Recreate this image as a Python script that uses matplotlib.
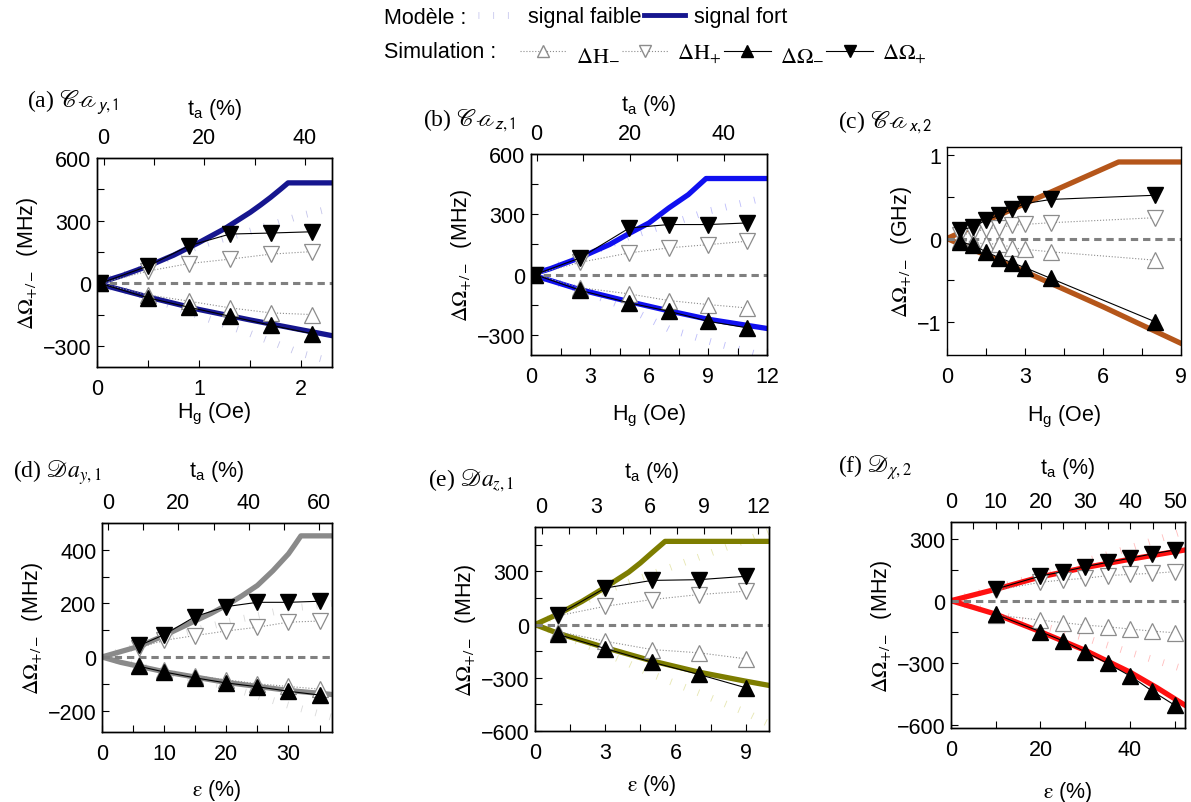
import matplotlib.pyplot as plt
from matplotlib.lines import Line2D
from matplotlib.ticker import MultipleLocator
from matplotlib.font_manager import FontProperties

plt.rcParams['font.family'] = ['Liberation Sans', 'DejaVu Sans']
plt.rcParams['mathtext.fontset'] = 'custom'
plt.rcParams['mathtext.rm'] = 'Liberation Sans'
plt.rcParams['mathtext.it'] = 'Liberation Sans:italic'
plt.rcParams['mathtext.bf'] = 'Liberation Sans:bold'
plt.rcParams['axes.linewidth'] = 1.0

# ---- (a) Ca y,1 ----
a_x = [0.03, 0.5, 0.9, 1.3, 1.7, 2.1]
a_om_plus = [0, 83, 180, 236, 241, 247]
a_om_minus = [0, -69, -114, -157, -200, -240]
a_h_plus = [0, 59, 95, 116, 140, 152]
a_h_minus = [0, -55, -85, -117, -141, -149]
a_fort_xp = [0, 0.25, 0.5, 0.75, 1.0, 1.25, 1.5, 1.6, 1.7, 1.8, 1.87, 2.3]
a_fort_plus = [0, 38, 83, 135, 196, 262, 340, 375, 412, 452, 481, 481]
a_fort_xm = [0, 0.5, 1.0, 1.5, 2.0, 2.3]
a_fort_minus = [0, -65, -125, -175, -222, -250]
a_faible_x = [0, 0.5, 1.0, 1.5, 2.0, 2.3]
a_faible_plus = [0, 80, 180, 250, 325, 360]
a_faible_minus = [0, -65, -155, -240, -335, -375]

# ---- (b) Ca z,1 ----
b_x = [0.2, 2.5, 5, 7, 9, 11]
b_om_plus = [0, 83, 232, 249, 249, 257]
b_om_minus = [0, -78, -141, -182, -232, -265]
b_h_plus = [0, 61, 108, 133, 149, 166]
b_h_minus = [0, -65, -96, -129, -149, -166]
b_fort_xp = [0, 1, 2.5, 4, 5, 6, 7, 8, 8.9, 12]
b_fort_plus = [0, 30, 85, 150, 205, 257, 331, 398, 478, 478]
b_fort_xm = [0, 2.5, 5, 7, 9, 12]
b_fort_minus = [0, -75, -135, -180, -222, -268]
b_faible_x = [0, 2.5, 5, 7, 9, 12]
b_faible_plus = [0, 85, 190, 250, 315, 385]
b_faible_minus = [0, -75, -170, -270, -330, -410]

# ---- (c) Ca x,2 ----
c_x = [0.5, 1, 1.5, 2, 2.5, 3, 4, 8]
c_om_plus = [0.10, 0.14, 0.22, 0.28, 0.35, 0.42, 0.47, 0.52]
c_om_minus = [-0.04, -0.08, -0.16, -0.23, -0.29, -0.35, -0.48, -1.0]
c_h_plus = [0.04, 0.07, 0.12, 0.13, 0.16, 0.17, 0.19, 0.25]
c_h_minus = [-0.02, -0.04, -0.07, -0.06, -0.11, -0.13, -0.16, -0.26]
c_fort_xp = [0, 3, 6.6, 9]
c_fort_plus = [0, 0.42, 0.92, 0.92]
c_fort_xm = [0, 3, 6, 9]
c_fort_minus = [0, -0.40, -0.82, -1.26]

# ---- (d) Da y,1 ----
d_x = [6, 10, 15, 20, 25, 30, 35]
d_om_plus = [43, 83, 151, 188, 204, 204, 208]
d_om_minus = [-35, -56, -78, -97, -111, -128, -142]
d_h_plus = [35, 62, 80, 97, 111, 130, 134]
d_h_minus = [-30, -50, -70, -85, -100, -110, -120]
d_fort_xp = [0, 3, 6, 10, 15, 17.5, 20, 22.5, 25, 27.5, 30, 31, 32, 37]
d_fort_plus = [0, 20, 40, 80, 135, 162, 193, 228, 267, 322, 385, 418, 452, 452]
d_fort_xm = [0, 3, 6, 10, 20, 30, 37]
d_fort_minus = [0, -20, -35, -55, -95, -125, -140]
d_faible_x = [0, 10, 20, 30, 37]
d_faible_plus = [0, 70, 130, 180, 200]
d_faible_minus = [0, -55, -110, -180, -225]

# ---- (e) Da z,1 ----
e_x = [1, 3, 5, 7, 9]
e_om_plus = [56, 206, 249, 253, 272]
e_om_minus = [-56, -135, -212, -281, -356]
e_h_plus = [50, 103, 141, 169, 188]
e_h_minus = [-40, -94, -141, -159, -193]
e_fort_xp = [0, 1, 2, 3, 4, 4.5, 5, 5.56, 10]
e_fort_plus = [0, 60, 130, 210, 295, 347, 405, 469, 469]
e_fort_xm = [0, 1, 3, 5, 7, 9, 10]
e_fort_minus = [0, -50, -130, -205, -268, -319, -343]
e_faible_x = [0, 1, 3, 5, 7, 9, 10]
e_faible_plus = [0, 55, 190, 285, 380, 475, 525]
e_faible_minus = [0, -50, -160, -280, -385, -495, -560]

# ---- (f) D x,2 ----
f_x = [10, 20, 25, 30, 35, 40, 45, 50]
f_om_plus = [56, 119, 140, 164, 185, 205, 226, 245]
f_om_minus = [-66, -150, -194, -247, -303, -363, -437, -505]
f_h_plus = [50, 89, 100, 108, 121, 127, 132, 140]
f_h_minus = [-69, -94, -106, -118, -126, -137, -147, -155]
f_fort_xp = [0, 10, 20, 30, 40, 52.3]
f_fort_plus = [0, 55, 115, 160, 200, 245]
f_fort_xm = [0, 10, 20, 30, 40, 46, 52.3]
f_fort_minus = [0, -65, -150, -240, -345, -420, -505]
f_faible_x = [0, 10, 20, 30, 40, 52]
f_faible_plus = [0, 60, 125, 190, 255, 335]
f_faible_minus = [0, -60, -120, -180, -250, -330]

W, H = 1191, 803
fig = plt.figure(figsize=(W / 100, H / 100), dpi=100)

TICK_FS = 15.5
LAB_FS = 15.5
FAINT_LS = (0, (0.12, 2.0))


def add_panel(box, color, faint, sim_x, om_p, om_m, h_p, h_m,
              fxp, fp, fxm, fm, fa_x=None, fa_p=None, fa_m=None,
              xlim=None, ylim=None, xstep=1, ystep=300,
              top_lim=None, top_step=None, xlabel='', ylabel='',
              xpad=7, tpad=10, title='', title_pos=(0, 0)):
    l, t, r, b = box
    ax = fig.add_axes([l / W, 1 - b / H, (r - l) / W, (b - t) / H])

    if fa_x is not None:
        for ys in (fa_p, fa_m):
            ax.plot(fa_x, ys, color=faint, lw=5, ls=FAINT_LS,
                    solid_capstyle='butt', dash_capstyle='butt', zorder=1)
    ax.plot(fxp, fp, color=color, lw=3.8, zorder=2)
    ax.plot(fxm, fm, color=color, lw=3.8, zorder=2)
    ax.axhline(0, color='#808080', lw=2.2, ls=(0, (2.4, 1.6)), zorder=2.5)

    open_kw = dict(color='#8c8c8c', lw=0.8, ls=':', ms=11,
                   mfc='white', mec='#8c8c8c', mew=0.9, zorder=3)
    ax.plot(sim_x, h_p, marker='v', **open_kw)
    ax.plot(sim_x, h_m, marker='^', **open_kw)
    full_kw = dict(color='black', lw=0.8, ms=11, mfc='black',
                   mec='black', zorder=4)
    ax.plot(sim_x, om_p, marker='v', **full_kw)
    ax.plot(sim_x, om_m, marker='^', **full_kw)

    ax.set_xlim(*xlim)
    ax.set_ylim(*ylim)
    ax.xaxis.set_major_locator(MultipleLocator(xstep))
    ax.xaxis.set_minor_locator(MultipleLocator(xstep / 2))
    ax.yaxis.set_major_locator(MultipleLocator(ystep))
    ax.yaxis.set_minor_locator(MultipleLocator(ystep / 2))
    ax.tick_params(which='both', direction='in', width=0.8, length=5,
                   labelsize=TICK_FS, top=False, right=False)
    ax.tick_params(axis='x', pad=8)
    ax.tick_params(axis='y', pad=4)

    ax.set_xlabel(xlabel, fontsize=LAB_FS, labelpad=xpad,
                  math_fontfamily='stix' if 'varepsilon' in xlabel else None)
    ax.set_ylabel(ylabel, fontsize=LAB_FS, labelpad=2, math_fontfamily='stix')

    if top_lim is not None:
        tw = ax.twiny()
        tw.set_xlim(*top_lim)
        tw.xaxis.set_major_locator(MultipleLocator(top_step))
        tw.xaxis.set_minor_locator(MultipleLocator(top_step / 2))
        tw.tick_params(which='both', direction='in', width=0.8, length=5,
                       labelsize=TICK_FS, pad=7)
        tw.set_xlabel(r'$\mathrm{t_a}$ (%)', fontsize=LAB_FS, labelpad=tpad)

    fig.text(title_pos[0] / W, 1 - title_pos[1] / H, title,
             fontsize=17, family='Liberation Serif', math_fontfamily='stix',
             ha='left', va='center')
    return ax


yl_mhz = r'$\Delta\Omega_{+/-}$  (MHz)'
yl_ghz = r'$\Delta\Omega_{+/-}$  (GHz)'
xl_h = r'$\mathrm{H_g}$ (Oe)'
xl_e = r'$\mathrm{\varepsilon}$ (%)'

add_panel((97, 159, 332, 368), '#16168f', '#c4c4ea', a_x, a_om_plus, a_om_minus,
          a_h_plus, a_h_minus, a_fort_xp, a_fort_plus, a_fort_xm, a_fort_minus,
          a_faible_x, a_faible_plus, a_faible_minus,
          xlim=(0, 2.3), ylim=(-400, 600), xstep=1, ystep=300,
          top_lim=(-1.3, 45.4), top_step=20, xlabel=xl_h, ylabel=yl_mhz,
          xpad=0.5, tpad=9.5,
          title=r'(a) $\mathscr{Ca}_{\mathsf{y,1}}$', title_pos=(27, 103))

add_panel((531, 155, 767, 356), '#1010f0', '#bcbcfa', b_x, b_om_plus, b_om_minus,
          b_h_plus, b_h_minus, b_fort_xp, b_fort_plus, b_fort_xm, b_fort_minus,
          b_faible_x, b_faible_plus, b_faible_minus,
          xlim=(0, 12), ylim=(-400, 600), xstep=3, ystep=300,
          top_lim=(-1.2, 49.3), top_step=20, xlabel=xl_h, ylabel=yl_mhz,
          xpad=10.5, tpad=9.5,
          title=r'(b) $\mathscr{Ca}_{\mathsf{z,1}}$', title_pos=(423, 121))

add_panel((947, 148, 1181, 356), '#b5561a', None, c_x, c_om_plus, c_om_minus,
          c_h_plus, c_h_minus, c_fort_xp, c_fort_plus, c_fort_xm, c_fort_minus,
          xlim=(0, 9), ylim=(-1.4, 1.1), xstep=3, ystep=1,
          xlabel=xl_h, ylabel=yl_ghz, xpad=11.5,
          title=r'(c) $\mathscr{Ca}_{\mathsf{x,2}}$', title_pos=(838, 123))

add_panel((102, 524, 332, 733), '#8a8a8a', '#dadada', d_x, d_om_plus, d_om_minus,
          d_h_plus, d_h_minus, d_fort_xp, d_fort_plus, d_fort_xm, d_fort_minus,
          d_faible_x, d_faible_plus, d_faible_minus,
          xlim=(0, 37), ylim=(-280, 500), xstep=10, ystep=200,
          top_lim=(-1.7, 63.6), top_step=20, xlabel=xl_e, ylabel=yl_mhz,
          xpad=9.5, tpad=11.5,
          title=r'(d) $\mathscr{D}a_{y,1}$', title_pos=(13, 473))

add_panel((535, 528, 769, 732), '#7d7d00', '#e6e6b0', e_x, e_om_plus, e_om_minus,
          e_h_plus, e_h_minus, e_fort_xp, e_fort_plus, e_fort_xm, e_fort_minus,
          e_faible_x, e_faible_plus, e_faible_minus,
          xlim=(0, 10), ylim=(-600, 550), xstep=3, ystep=300,
          top_lim=(-0.37, 12.6), top_step=3, xlabel=xl_e, ylabel=yl_mhz,
          xpad=6.5, tpad=14,
          title=r'(e) $\mathscr{D}a_{z,1}$', title_pos=(428, 481))

add_panel((951, 523, 1185, 729), '#ff1010', '#ffbcbc', f_x, f_om_plus, f_om_minus,
          f_h_plus, f_h_minus, f_fort_xp, f_fort_plus, f_fort_xm, f_fort_minus,
          f_faible_x, f_faible_plus, f_faible_minus,
          xlim=(0, 52.3), ylim=(-615, 380), xstep=20, ystep=300,
          top_lim=(0, 52.2), top_step=10, xlabel=xl_e, ylabel=yl_mhz,
          xpad=13.5, tpad=13,
          title=r'(f) $\mathscr{D}_{\chi,2}$', title_pos=(838, 468))

# ---- legend ----
fig.text(384 / W, 1 - 18 / H, 'Modèle :', fontsize=LAB_FS, va='center')
fig.text(384 / W, 1 - 52 / H, 'Simulation :', fontsize=LAB_FS, va='center')

row1 = [Line2D([], [], color='#c8c8ee', lw=5, ls=FAINT_LS, dash_capstyle='butt'),
        Line2D([], [], color='#16168f', lw=3.5)]
fig.legend(row1, ['signal faible', 'signal fort'], loc='center left',
           bbox_to_anchor=(478 / W, 1 - 18 / H), ncol=2, frameon=False,
           fontsize=LAB_FS, handlelength=1.9, handletextpad=0.4,
           columnspacing=0.15, borderpad=0, borderaxespad=0)

ok = dict(color='#8c8c8c', lw=0.8, ls=':', ms=8, mfc='white', mec='#8c8c8c')
fk = dict(color='black', lw=0.8, ms=8, mfc='black', mec='black')
row2 = [Line2D([], [], marker='^', **ok), Line2D([], [], marker='v', **ok),
        Line2D([], [], marker='^', **fk), Line2D([], [], marker='v', **fk)]
labels2 = [r'$\Delta\mathrm{H}_{-}$', r'$\Delta\mathrm{H}_{+}$',
           r'$\Delta\Omega_{-}$', r'$\Delta\Omega_{+}$']
fig.legend(row2, labels2, loc='center left', bbox_to_anchor=(520 / W, 1 - 54 / H),
           ncol=4, frameon=False, handlelength=2.1, handletextpad=0.4,
           columnspacing=0.1, borderpad=0, borderaxespad=0,
           prop=FontProperties(family='Liberation Serif', size=16,
                               math_fontfamily='stix'))

fig.savefig('out.png', dpi=100)
